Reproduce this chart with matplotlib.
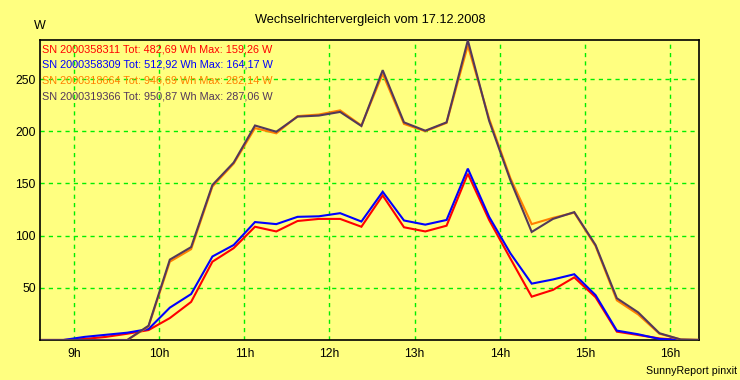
import matplotlib
matplotlib.use("Agg")
import matplotlib.pyplot as plt
import numpy as np

# time of each 15-min sample (hours)
times = [8.625 + 0.25 * k for k in range(32)]

red_vals = [0, 0, 1, 3, 6, 9.5, 21, 36.5, 75, 88, 108.5, 104, 114, 116, 116, 108.5,
            138.5, 108, 104, 109.5, 159.26, 115, 78, 41.5, 48, 60, 41, 8, 4.8, 1.5, 0, 0]
blue_vals = [0, 0, 3, 5, 7, 10.5, 31, 44, 80, 91, 113, 111, 118, 118.5, 121.5, 113.5,
             142, 114.5, 110.5, 115, 164.17, 118, 83, 54, 58, 63, 43, 9, 5.5, 1, 0, 0]
orange_vals = [0, 0, 0, 0, 0, 13, 75, 87, 147, 169, 203, 198, 214.5, 216, 220, 205.5,
               255, 207, 200, 208, 282.14, 212, 155, 111, 117, 122, 90, 38, 24.5, 6, 0.5, 0]
dark_vals = [0, 0, 0, 0, 0, 13.7, 77, 89, 148.5, 170, 205.5, 199.5, 214, 215, 218.5, 205,
             258.5, 208.5, 200.5, 208.5, 287.06, 210, 153, 103.5, 116, 122.5, 91, 40, 26.5, 6.5, 0.5, 0]

labels = [
    "SN 2000358311 Tot: 482,69 Wh Max: 159,26 W",
    "SN 2000358309 Tot: 512,92 Wh Max: 164,17 W",
    "SN 2000318664 Tot: 946,69 Wh Max: 282,14 W",
    "SN 2000319366 Tot: 950,87 Wh Max: 287,06 W",
]
colors = ["#FF0000", "#0000FF", "#FF8000", "#53385A"]
series = [red_vals, blue_vals, orange_vals, dark_vals]

xticks = list(range(9, 17))
xtick_labels = [f"{h}h" for h in xticks]
yticks = [50, 100, 150, 200, 250]

title = "Wechselrichtervergleich vom 17.12.2008"
footer = "SunnyReport pinxit"

plt.rcParams['font.family'] = ['Liberation Sans', 'DejaVu Sans']
bg = "#FFFF80"
fig = plt.figure(figsize=(7.4, 3.8), dpi=100, facecolor=bg)
ax = fig.add_axes([40 / 740, 1 - 340 / 380, 659 / 740, 300 / 380])
ax.set_facecolor(bg)

for vals, c in zip(series, colors):
    ax.plot(times, vals, color=c, lw=1.5, solid_joinstyle='miter', zorder=3)

ax.set_xlim(8.6, 16.34)
ax.set_ylim(0, 287.4)
ax.set_xticks(xticks)
ax.set_xticklabels(xtick_labels)
ax.set_yticks(yticks)
ax.tick_params(axis='y', length=0, labelsize=8.7, pad=3)
ax.tick_params(axis='x', length=0, labelsize=8.7, pad=6)
ax.grid(True, color="#00EE00", linestyle=(0, (3, 3)), lw=1.0, zorder=1)
for s in ax.spines.values():
    s.set_color("black")
    s.set_linewidth(1.2)

for i, (lab, c) in enumerate(zip(labels, colors)):
    ax.text(2 / 659, 1 - (9 + 15.7 * i) / 300, lab, transform=ax.transAxes, color=c,
            fontsize=7.8, ha='left', va='center', zorder=4)

fig.text(370 / 740, 1 - 20 / 380, title, ha='center', va='center', fontsize=9.2)
fig.text(40 / 740, 1 - 26 / 380, "W", ha='center', va='center', fontsize=9)
fig.text(737 / 740, 1 - 371 / 380, footer, ha='right', va='center', fontsize=7.7)

fig.savefig("out.png", dpi=100, facecolor=bg)
